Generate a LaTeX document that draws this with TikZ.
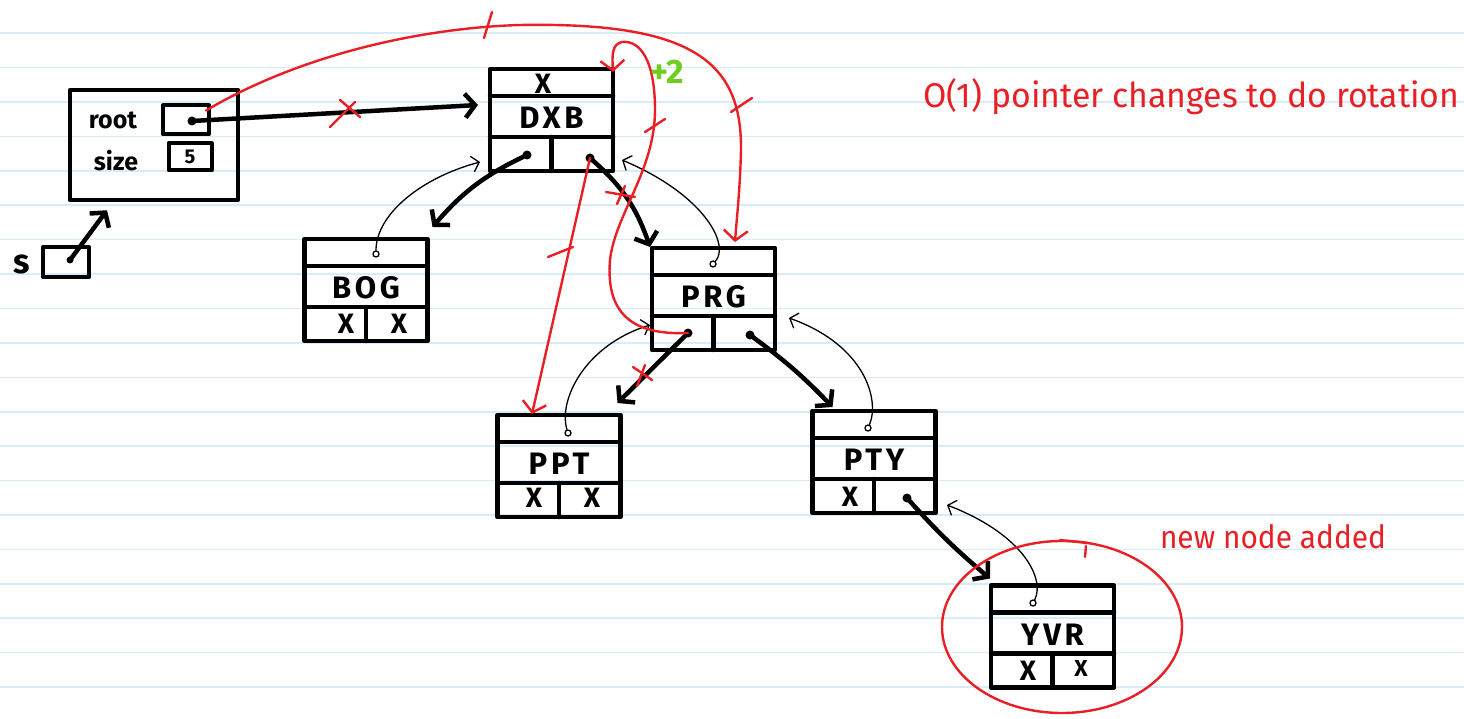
\documentclass[tikz,border=0pt]{standalone}
\usepackage{fontspec}
\setmainfont{Fira Sans}
\newfontfamily\labfont{Fira Sans}[LetterSpace=12]
\newfontfamily\handfont{Fira Sans}
\usetikzlibrary{arrows.meta,calc}
\definecolor{paperline}{RGB}{216,235,249}
\definecolor{penred}{RGB}{232,32,38}
\definecolor{pengreen}{RGB}{110,205,30}
\tikzset{
  thickln/.style={line width=4.5pt, line cap=round, line join=round},
  lnode/.style={draw, thickln, minimum width=123pt, minimum height=102pt, inner sep=0pt, outer sep=0pt},
  smallbox/.style={draw, line width=4pt, line join=round, inner sep=0pt, outer sep=0pt},
  nodelabel/.style={font=\labfont\bfseries\fontsize{31}{31}\selectfont, inner sep=0pt},
  nullmark/.style={font=\handfont\bfseries\fontsize{28}{28}\selectfont, inner sep=0pt},
  fieldtext/.style={font=\handfont\bfseries\fontsize{25}{25}\selectfont, inner sep=0pt},
  ptrdot/.style={circle, fill, inner sep=0pt, minimum size=9pt, outer sep=0pt},
  parcirc/.style={circle, draw, line width=1.3pt, inner sep=0pt, minimum size=6pt},
  treearrow/.style={thickln, -{Straight Barb[length=10pt,width=24pt,line width=4.5pt]}},
  thinarrow/.style={line width=1.3pt, line cap=round, -{Straight Barb[length=7pt,width=16pt,line width=1.3pt]}},
  redarrow/.style={penred, line width=2.4pt, line cap=round, -{Straight Barb[length=10pt,width=24pt,line width=2.4pt]}},
  redmark/.style={penred, line width=2.4pt, line cap=round},
}
\newcommand\listnode[4]{% name, x, y, label
  \node[lnode] (#1) at (#2,#3) {};
  \draw[thickln] ([yshift=-27pt]#1.north west) -- ([yshift=-27pt]#1.north east);
  \draw[thickln] ([yshift=34pt]#1.south west) -- ([yshift=34pt]#1.south east);
  \draw[thickln] ([yshift=34pt]#1.south) -- (#1.south);
  \node[nodelabel] (#1-lab) at ([yshift=-49pt]#1.north) {#4};
}
\begin{document}
\begin{tikzpicture}[x=1pt,y=-1pt]
\useasboundingbox (0,0) rectangle (1464,719);
\fill[white] (0,0) rectangle (1464,719);
% lined paper
\foreach \k in {0,...,19}
  \draw[paperline, line width=1.6pt] (0,{33.3+34.4*\k}) -- (1464,{33.3+34.4*\k});

% ---------- tree object ----------
\node[draw, thickln, minimum width=168pt, minimum height=110pt, inner sep=0pt] (tree) at (154,145) {};
\node[fieldtext] (rootlab) at (113,120) {root};
\node[fieldtext] (sizelab) at (116,161) {size};
\node[smallbox, minimum width=46pt, minimum height=29pt] (rootbox) at (186,120) {};
\node[smallbox, minimum width=43pt, minimum height=27pt, font=\handfont\bfseries\fontsize{20}{20}\selectfont] (sizebox) at (190,157) {5};
\node[ptrdot] (rootdot) at (192,121) {};

% s variable
\node[font=\handfont\bfseries\fontsize{34}{34}\selectfont, inner sep=0pt] (slab) at (22,264) {s};
\node[smallbox, minimum width=46pt, minimum height=30pt] (sbox) at (66,262) {};
\node[ptrdot, minimum size=7pt] (sdot) at (70,260) {};

% ---------- list nodes ----------
\listnode{dxb}{551.5}{120}{DXB}
\listnode{bog}{366}{290}{BOG}
\listnode{prg}{713.5}{299}{PRG}
\listnode{ppt}{559}{466}{PPT}
\listnode{pty}{874}{462}{PTY}
\listnode{yvr}{1052.5}{636.5}{YVR}

% parent field contents
\node[nullmark] (dxb-px) at (543,84) {X};
\node[parcirc] (bog-pc) at (376,254) {};
\node[parcirc] (prg-pc) at (713,264) {};
\node[parcirc] (ppt-pc) at (568,433) {};
\node[parcirc] (pty-pc) at (868,428) {};
\node[parcirc] (yvr-pc) at (1033,603) {};

% child fields
\node[ptrdot] (dxb-ld) at (527,155) {};
\node[ptrdot] (dxb-rd) at (590,158) {};
\node[nullmark] (bog-lx) at (346,324) {X};
\node[nullmark] (bog-rx) at (399,324) {X};
\node[ptrdot] (prg-ld) at (688,333) {};
\node[ptrdot] (prg-rd) at (750,335) {};
\node[nullmark] (ppt-lx) at (534,498) {X};
\node[nullmark] (ppt-rx) at (592,498) {X};
\node[nullmark] (pty-lx) at (850,497) {X};
\node[ptrdot] (pty-rd) at (907,498) {};
\node[nullmark] (yvr-lx) at (1028,671) {X};
\node[nullmark, font=\handfont\bfseries\fontsize{23}{23}\selectfont] (yvr-rx) at (1081,669) {X};

% ---------- thick pointers ----------
\draw[treearrow] (rootdot.center) -- ([xshift=-12pt,yshift=15pt]dxb.west);
\draw[treearrow] (sdot.center) -- ([xshift=-47pt,yshift=-8pt]tree.south);
\draw[treearrow] (dxb-ld.center) to[bend right=12] ([xshift=5pt,yshift=12pt]bog.north east);
\draw[treearrow] (dxb-rd.center) to[bend left=15] ([xshift=-2pt,yshift=1pt]prg.north west);
\draw[treearrow] (prg-ld.center) -- ([xshift=-3pt,yshift=12pt]ppt.north east);
\draw[treearrow] (prg-rd.center) to[bend left=5] ([xshift=20pt,yshift=4pt]pty.north west);
\draw[treearrow] (pty-rd.center) to[bend right=4] ([xshift=-1pt,yshift=7pt]yvr.north west);

% ---------- thin parent pointers ----------
\draw[thinarrow] (bog-pc) .. controls (376,215) and (420,178) .. ([xshift=-10pt,yshift=9pt]dxb.south west);
\draw[thinarrow] (prg-pc) .. controls (730,245) and (705,195) .. ([xshift=9pt,yshift=11pt]dxb.south east);
\draw[thinarrow] (ppt-pc) .. controls (558,400) and (585,345) .. ([xshift=-2pt,yshift=25pt]prg.south west);
\draw[thinarrow] (pty-pc) .. controls (880,400) and (865,345) .. ([xshift=14pt,yshift=32pt]prg.south east);
\draw[thinarrow] (yvr-pc) .. controls (1045,580) and (1025,535) .. ([xshift=11.5pt,yshift=8pt]pty.south east);

% ---------- red rotation annotations ----------
\draw[redarrow] ([xshift=-3pt,yshift=-5pt]rootbox.north east)
   .. controls (300,55) and (420,28) .. (520,25)
   .. controls (690,22) and (742,60) .. (741,150)
   .. controls (740,190) and (737,215) .. ([xshift=21.5pt,yshift=6pt]prg.north);
\draw[redarrow] (prg-ld.center)
   .. controls (640,335) and (605,320) .. (610,260)
   .. controls (615,215) and (655,170) .. (655,110)
   .. controls (655,60) and (640,40) .. (622,42)
   .. controls (612,44) and (612,55) .. ([yshift=-3pt]dxb.north east);
\draw[redarrow] (dxb-rd.center) -- ([xshift=-27pt,yshift=1pt]ppt.north);

% cross-outs and ticks
\draw[redmark] (330,127) -- (355,102) (340,100) -- (360,117);
\draw[redmark] (606,192) -- (635,197) (617,204) -- (625,186);
\draw[redmark] (633,367) -- (652,380) (637,386) -- (645,365);
\draw[redmark] (492,12) -- (484,38);
\draw[redmark] (752,98) -- (731,112);
\draw[redmark] (665,119) -- (645,132);
\draw[redmark] (573,247) -- (548,257);

% new node circled
\draw[penred, line width=2.4pt] (1062,627) ellipse [x radius=120pt, y radius=86pt];
\draw[redmark] (1060,540) -- (1088,543) (1086,546) -- (1085,557);

% text notes
\node[anchor=west, inner sep=0pt, text=penred] (note1) at (923,97)
  {\resizebox{536pt}{29pt}{\handfont O(1) pointer changes to do rotation}};
\node[inner sep=0pt, text=pengreen, font=\handfont\bfseries\fontsize{34}{34}\selectfont] (plus2) at (667,72) {+2};
\node[inner sep=0pt, text=penred] (note2) at (1273,537)
  {\resizebox{226pt}{24pt}{\handfont new node added}};
\end{tikzpicture}
\end{document}
